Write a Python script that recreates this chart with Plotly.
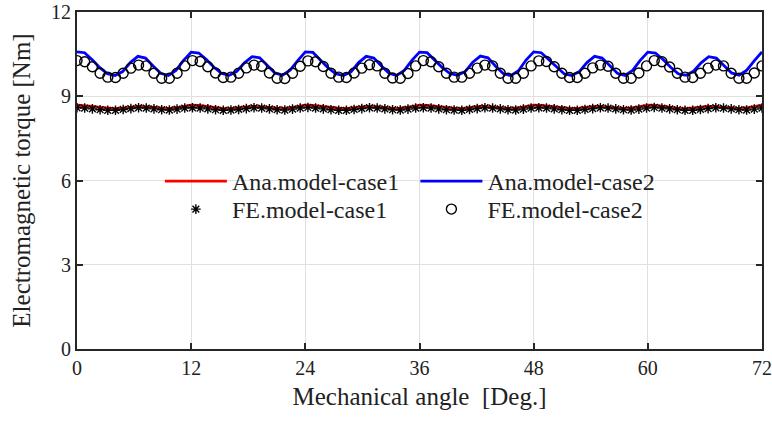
import numpy as np
import plotly.graph_objects as go

# ---- data ----
# analytical model sampled every 0.8 deg (91 points)
ana_angle = [round(i * 0.8, 2) for i in range(91)]
ana_case2 = [
    10.58, 10.55, 10.30, 10.02, 9.80, 9.74, 9.88, 10.20, 10.42, 10.36, 10.08, 9.82, 9.74, 9.92, 10.28,
    10.57, 10.54, 10.31, 10.03, 9.81, 9.75, 9.89, 10.19, 10.41, 10.37, 10.09, 9.83, 9.75, 9.93, 10.27,
    10.58, 10.56, 10.30, 10.01, 9.80, 9.74, 9.87, 10.20, 10.42, 10.36, 10.08, 9.82, 9.74, 9.92, 10.28,
    10.57, 10.55, 10.29, 10.02, 9.81, 9.75, 9.88, 10.21, 10.43, 10.37, 10.07, 9.81, 9.73, 9.91, 10.29,
    10.58, 10.55, 10.30, 10.02, 9.80, 9.74, 9.88, 10.20, 10.42, 10.36, 10.08, 9.82, 9.74, 9.92, 10.28,
    10.57, 10.54, 10.31, 10.03, 9.80, 9.75, 9.89, 10.19, 10.41, 10.36, 10.09, 9.83, 9.75, 9.93, 10.27,
    10.58,
]
ana_case1 = [
    8.68, 8.67, 8.64, 8.60, 8.57, 8.56, 8.58, 8.62, 8.64, 8.63, 8.60, 8.57, 8.56, 8.59, 8.64,
    8.68, 8.67, 8.63, 8.60, 8.57, 8.56, 8.58, 8.62, 8.64, 8.63, 8.60, 8.57, 8.56, 8.59, 8.64,
    8.68, 8.67, 8.64, 8.60, 8.57, 8.56, 8.58, 8.62, 8.64, 8.63, 8.60, 8.57, 8.56, 8.59, 8.64,
    8.68, 8.67, 8.64, 8.60, 8.57, 8.56, 8.58, 8.62, 8.64, 8.63, 8.60, 8.57, 8.56, 8.59, 8.64,
    8.68, 8.67, 8.64, 8.60, 8.57, 8.56, 8.58, 8.62, 8.64, 8.63, 8.60, 8.57, 8.56, 8.59, 8.64,
    8.68, 8.67, 8.63, 8.60, 8.57, 8.56, 8.58, 8.62, 8.64, 8.63, 8.60, 8.57, 8.56, 8.59, 8.64,
    8.68,
]
# FE model: 90 samples spread over 0..72 deg
fe_angle = list(np.round(np.linspace(0, 72, 90), 3))
fe_case2 = [
    10.27, 10.23, 10.05, 9.82, 9.68, 9.67, 9.82, 10.00, 10.11, 10.08, 9.82, 9.64, 9.64, 9.82, 10.08,
    10.27, 10.24, 10.05, 9.83, 9.67, 9.68, 9.82, 10.01, 10.11, 10.07, 9.83, 9.64, 9.63, 9.82, 10.07,
    10.26, 10.23, 10.06, 9.82, 9.68, 9.67, 9.83, 10.00, 10.12, 10.08, 9.82, 9.65, 9.64, 9.81, 10.08,
    10.27, 10.23, 10.05, 9.82, 9.68, 9.68, 9.82, 10.00, 10.11, 10.08, 9.82, 9.64, 9.64, 9.82, 10.08,
    10.26, 10.24, 10.05, 9.82, 9.67, 9.67, 9.82, 10.01, 10.11, 10.07, 9.82, 9.64, 9.64, 9.83, 10.08,
    10.27, 10.23, 10.04, 9.82, 9.68, 9.67, 9.82, 10.00, 10.11, 10.08, 9.82, 9.64, 9.64, 9.83, 10.08,
]
fe_case1 = [
    8.59, 8.58, 8.55, 8.52, 8.50, 8.50, 8.53, 8.56, 8.59, 8.58, 8.55, 8.52, 8.51, 8.54, 8.58,
    8.59, 8.58, 8.55, 8.52, 8.50, 8.51, 8.53, 8.56, 8.59, 8.58, 8.55, 8.52, 8.51, 8.54, 8.58,
    8.60, 8.58, 8.55, 8.52, 8.50, 8.50, 8.53, 8.56, 8.59, 8.58, 8.55, 8.52, 8.51, 8.54, 8.58,
    8.59, 8.58, 8.55, 8.52, 8.51, 8.50, 8.53, 8.56, 8.59, 8.58, 8.55, 8.52, 8.51, 8.54, 8.58,
    8.59, 8.58, 8.55, 8.52, 8.50, 8.50, 8.53, 8.56, 8.59, 8.58, 8.55, 8.52, 8.51, 8.54, 8.58,
    8.60, 8.58, 8.55, 8.52, 8.50, 8.50, 8.53, 8.56, 8.59, 8.58, 8.55, 8.52, 8.51, 8.54, 8.58,
]
x_ticks = [0, 12, 24, 36, 48, 60, 72]
y_ticks = [0, 3, 6, 9, 12]

FONT = "Liberation Serif"
TXT = "#222222"

fig = go.Figure()
fig.add_trace(go.Scatter(x=ana_angle, y=ana_case1, mode="lines", name="Ana.model-case1",
                         line=dict(color="#ff0000", width=2.8), legend="legend"))
fig.add_trace(go.Scatter(x=ana_angle, y=ana_case2, mode="lines", name="Ana.model-case2",
                         line=dict(color="#0000ff", width=2.8), legend="legend2"))
fig.add_trace(go.Scatter(x=fe_angle, y=fe_case1, mode="markers", name="FE.model-case1",
                         marker=dict(symbol="asterisk-open", size=8, color="black",
                                     line=dict(color="black", width=1.4)), legend="legend3"))
fig.add_trace(go.Scatter(x=fe_angle, y=fe_case2, mode="markers", name="FE.model-case2",
                         marker=dict(symbol="circle-open", size=10, color="black",
                                     line=dict(color="black", width=1.4)), legend="legend4"))

def leg(x, y):
    return dict(x=x, y=y, xanchor="left", yanchor="middle", bgcolor="rgba(0,0,0,0)",
                borderwidth=0, font=dict(family=FONT, size=24, color=TXT), itemwidth=62,
                tracegroupgap=0)

axis_common = dict(showline=True, linecolor="#262626", linewidth=2, mirror="ticks",
                   ticks="inside", ticklen=6, tickwidth=1.5, tickcolor="#262626",
                   showgrid=True, gridcolor="#e0e0e0", gridwidth=1, zeroline=False,
                   automargin=False,
                   tickfont=dict(family=FONT, size=20, color=TXT))

fig.update_layout(
    width=772, height=421,
    margin=dict(l=77, r=10, t=12, b=72),
    plot_bgcolor="white", paper_bgcolor="white",
    showlegend=True,
    legend=leg(0.121, 0.497),
    legend2=leg(0.494, 0.497),
    legend3=leg(0.121, 0.414),
    legend4=leg(0.494, 0.414),
    xaxis=dict(range=[0, 72], tickvals=x_ticks,
               title=dict(text="Mechanical angle\u00a0 [Deg.]", font=dict(family=FONT, size=25, color=TXT), standoff=9),
               **axis_common),
    yaxis=dict(range=[0, 12], tickvals=y_ticks,
               title=dict(text="Electromagnetic torque [Nm]", font=dict(family=FONT, size=25, color=TXT), standoff=13),
               **axis_common),
)

fig.write_html("out.html")
